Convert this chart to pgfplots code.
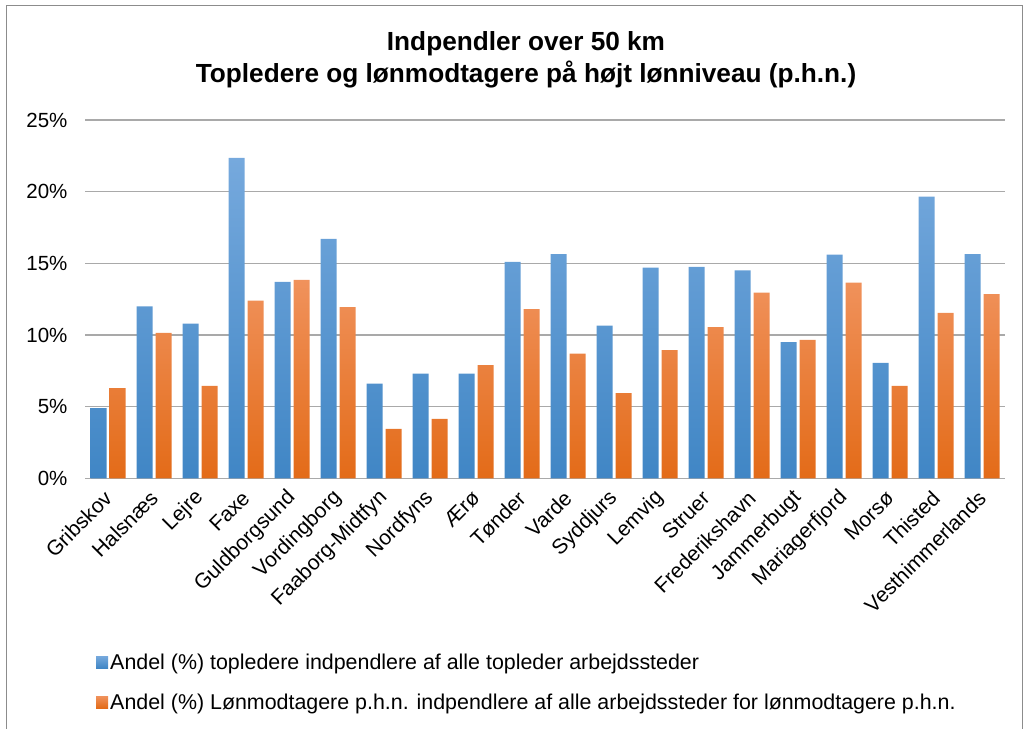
\documentclass[border=0pt]{standalone}
\usepackage{fontspec}
\setmainfont{Liberation Sans}
\usepackage{pgfplots}
\pgfplotsset{compat=1.18}
\definecolor{bT}{HTML}{76A9DD}
\definecolor{bM}{HTML}{5A9CDC}
\definecolor{bB}{HTML}{4086C5}
\definecolor{oT}{HTML}{F0925C}
\definecolor{oM}{HTML}{F57D28}
\definecolor{oB}{HTML}{E36B18}
\definecolor{gridgray}{HTML}{A9A9A9}
\definecolor{framegray}{HTML}{8C8C8C}
\pgfplotsset{sqlegend/.style={legend image code/.code={\path[##1] (0pt,-6pt) rectangle (12pt,6pt);}}}
\begin{document}
\begin{tikzpicture}[x=1pt,y=1pt]
\useasboundingbox (0,0) rectangle (1024,728);
\begin{scope}
\clip (0,0) rectangle (1024,728);
\draw[color=framegray, line width=1.5pt] (6.5,-20) rectangle (1022.5,722.5);
\end{scope}
\node[font=\bfseries\fontsize{26.2}{32}\selectfont, align=center] at (526,668) {Indpendler over 50 km\\Topledere og lønmodtagere på højt lønniveau (p.h.n.)};
\begin{axis}[
  at={(85pt,249.7pt)}, anchor=south west,
  scale only axis, width=920pt, height=358.3pt,
  ybar=3pt, bar width=16pt,
  xmin=-0.5, xmax=19.5, ymin=0, ymax=25,
  xtick={0,...,19},
  xticklabels={Gribskov,Halsnæs,Lejre,Faxe,Guldborgsund,Vordingborg,Faaborg-Midtfyn,Nordfyns,Ærø,Tønder,Varde,Syddjurs,Lemvig,Struer,Frederikshavn,Jammerbugt,Mariagerfjord,Morsø,Thisted,Vesthimmerlands},
  ytick={0,5,10,15,20,25},
  yticklabels={0\%,5\%,10\%,15\%,20\%,25\%},
  yticklabel style={font=\fontsize{20.5}{24}\selectfont, anchor=east, xshift=-14pt},
  xticklabel style={xshift=1.5pt, yshift=-15pt, font=\fontsize{21}{25}\selectfont, rotate=45, anchor=east, inner sep=2pt},
  major tick length=0pt,
  axis line style={draw=none},
  ymajorgrids, grid style={color=gridgray, line width=1.3pt},
  legend cell align=left,
  legend style={draw=none, fill=none, at={(0.012,-0.483)}, anchor=north west,
    font=\fontsize{21.4}{25}\selectfont, inner sep=0pt, row sep=19pt,
    nodes={inner xsep=2pt, inner ysep=2pt}},
  legend columns=1,
]
\addplot[draw=none, top color=bT, middle color=bM, bottom color=bB, sqlegend]
 coordinates {(0,4.9) (1,12.0) (2,10.8) (3,22.35) (4,13.7) (5,16.7) (6,6.6) (7,7.3) (8,7.3) (9,15.1) (10,15.65) (11,10.65) (12,14.7) (13,14.75) (14,14.5) (15,9.5) (16,15.6) (17,8.05) (18,19.65) (19,15.65)};
\addplot[draw=none, top color=oT, middle color=oM, bottom color=oB, sqlegend]
 coordinates {(0,6.3) (1,10.15) (2,6.45) (3,12.4) (4,13.85) (5,11.95) (6,3.45) (7,4.15) (8,7.9) (9,11.8) (10,8.7) (11,5.95) (12,8.95) (13,10.55) (14,12.95) (15,9.65) (16,13.65) (17,6.45) (18,11.55) (19,12.85)};
\legend{Andel (\%) topledere indpendlere af alle topleder arbejdssteder,Andel (\%) Lønmodtagere p.h.n. indpendlere af alle arbejdssteder for lønmodtagere p.h.n.}
\end{axis}
\end{tikzpicture}
\end{document}
